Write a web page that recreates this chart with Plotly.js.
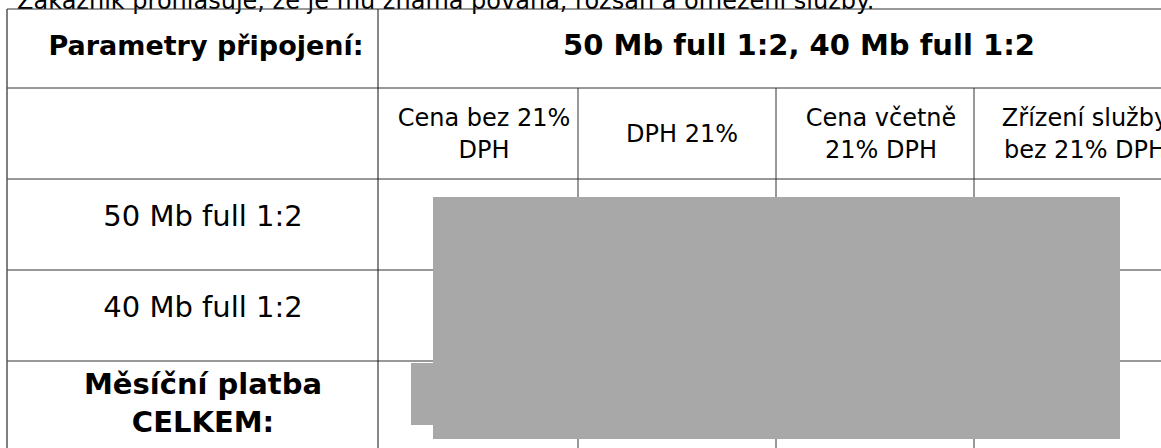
<!DOCTYPE html>
<html>
<head>
<meta charset="utf-8">
<script src="https://cdn.plot.ly/plotly-3.0.1.min.js"></script>
<style>html,body{margin:0;padding:0;background:#fff;}#chart{width:1161px;height:448px;}</style>
</head>
<body>
<div id="chart"></div>
<script>
// ---- content ----
const topNote = "Zákazník prohlašuje, že je mu známá povaha, rozsah a omezení služby.";
const paramLabel = "Parametry připojení:";
const paramValue = "50 Mb full 1:2, 40 Mb full 1:2";
const columnHeaders = ["Cena bez 21%<br>DPH", "DPH 21%", "Cena včetně<br>21% DPH", "Zřízení služby<br>bez 21% DPH"];
const rowLabels = ["50 Mb full 1:2", "40 Mb full 1:2"];
const totalLabel = "Měsíční platba<br>CELKEM:";
// price cells are hidden under a redaction mask in the reference and cannot be read

// ---- geometry (layout only) ----
const W = 1161, H = 448;
const leftX = 7;
const colEdges = [378, 578, 776, 974];
const rowEdges = [9, 88, 179, 270, 361];
const labelColX = 203;
const paramX = 206;
const headerColX = [484, 682, 881, 1085];
const titleX = 799;
const rowMidY = {note: 3, title: 48, header: 136, rows: [219, 310], total: 406};

const FONT = "DejaVu Sans, Verdana, sans-serif";
const lineColor = "#333333";

const shapes = [];
rowEdges.forEach(y => shapes.push({type:"line", xref:"x", yref:"y", x0:leftX, x1:W+5, y0:y, y1:y, line:{color:lineColor, width:1}}));
shapes.push({type:"line", xref:"x", yref:"y", x0:leftX, x1:leftX, y0:rowEdges[0], y1:H+5, line:{color:"#555555", width:1.5}});
shapes.push({type:"line", xref:"x", yref:"y", x0:colEdges[0], x1:colEdges[0], y0:rowEdges[0], y1:H+5, line:{color:"#111111", width:1}});
colEdges.slice(1).forEach(x => shapes.push({type:"line", xref:"x", yref:"y", x0:x, x1:x, y0:rowEdges[1], y1:H+5, line:{color:lineColor, width:1}}));
// redaction mask over the price cells
shapes.push({type:"rect", xref:"x", yref:"y", x0:433, x1:1120, y0:197, y1:439, fillcolor:"#a8a8a8", line:{width:0}});
shapes.push({type:"rect", xref:"x", yref:"y", x0:411, x1:433, y0:363, y1:425, fillcolor:"#a8a8a8", line:{width:0}});

const base = {type:"scatter", mode:"text", hoverinfo:"skip", showlegend:false, cliponaxis:false};

const traces = [
  Object.assign({}, base, {
    x:[17], y:[rowMidY.note], text:[topNote], textposition:"middle right",
    textfont:{family:FONT, size:24, color:"#000"}
  }),
  Object.assign({}, base, {
    x:[paramX], y:[rowMidY.title],
    text:[paramLabel], textposition:"middle center",
    textfont:{family:FONT, size:27, color:"#000", weight:700}
  }),
  Object.assign({}, base, {
    x:[titleX, labelColX], y:[rowMidY.title, rowMidY.total],
    text:[paramValue, totalLabel], textposition:"middle center",
    textfont:{family:FONT, size:29, color:"#000", weight:700}
  }),
  Object.assign({}, base, {
    x:headerColX, y:columnHeaders.map(() => rowMidY.header),
    text:columnHeaders, textposition:"middle center",
    textfont:{family:FONT, size:24, color:"#000"}
  }),
  Object.assign({}, base, {
    x:rowLabels.map(() => labelColX), y:rowMidY.rows,
    text:rowLabels, textposition:"middle center",
    textfont:{family:FONT, size:29, color:"#000"}
  })
];

const layout = {
  width:W, height:H,
  margin:{l:0, r:0, t:0, b:0, pad:0},
  paper_bgcolor:"#ffffff", plot_bgcolor:"#ffffff",
  xaxis:{range:[0, W], visible:false, fixedrange:true},
  yaxis:{range:[H, 0], visible:false, fixedrange:true},
  shapes:shapes,
  showlegend:false
};

Plotly.newPlot("chart", traces, layout, {staticPlot:true, displayModeBar:false});
</script>
</body>
</html>
